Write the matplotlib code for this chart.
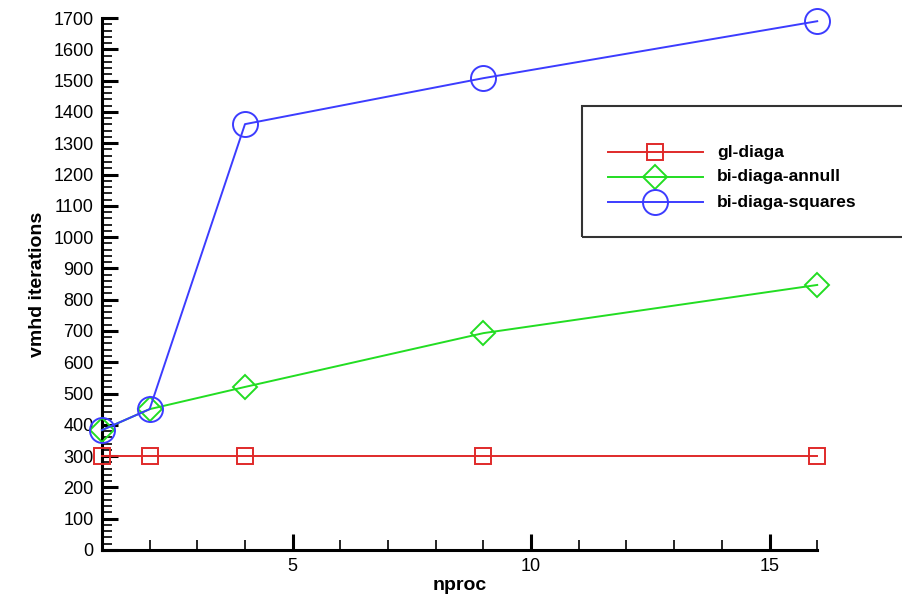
import matplotlib
matplotlib.use("Agg")
import matplotlib.pyplot as plt
from matplotlib.ticker import MultipleLocator
from matplotlib.patches import Rectangle
from matplotlib.lines import Line2D

# ─── data ──────────────────────────────────────────────────────────────────
nproc        = [1, 2, 4, 9, 16]
gl_diaga     = [300, 300, 300, 300, 300]
bi_annull    = [383, 450, 521, 693, 847]
bi_squares   = [383, 450, 1361, 1508, 1690]

series_names = ["gl-diaga", "bi-diaga-annull", "bi-diaga-squares"]

plt.rcParams['font.family'] = ['Liberation Sans', 'DejaVu Sans']

fig = plt.figure(figsize=(9.02, 6.03), dpi=100)
ax = fig.add_axes([0.113, 0.088, 0.793, 0.882])

red, green, blue = '#e02a2a', '#22dd22', '#3c3cff'
ax.plot(nproc, gl_diaga, color=red, lw=1.4, marker='s', ms=11.5,
        mfc='none', mec=red, mew=1.4, clip_on=False, zorder=3)
ax.plot(nproc, bi_annull, color=green, lw=1.4, marker='D', ms=12.5,
        mfc='none', mec=green, mew=1.4, clip_on=False, zorder=4)
ax.plot(nproc, bi_squares, color=blue, lw=1.4, marker='o', ms=18,
        mfc='none', mec=blue, mew=1.4, clip_on=False, zorder=5)

ax.set_xlim(1, 16)
ax.set_ylim(0, 1700)
ax.xaxis.set_major_locator(MultipleLocator(5))
ax.xaxis.set_minor_locator(MultipleLocator(1))
ax.yaxis.set_major_locator(MultipleLocator(100))
ax.yaxis.set_minor_locator(MultipleLocator(20))

for s in ['top', 'right']:
    ax.spines[s].set_visible(False)
for s in ['left', 'bottom']:
    ax.spines[s].set_linewidth(2.2)

ax.tick_params(which='major', direction='in', length=11.5, width=2.2,
               labelsize=13, pad=6)
ax.tick_params(which='minor', direction='in', length=7, width=1.2)

ax.set_xlabel("nproc", fontsize=14, fontweight='bold', labelpad=1)
ax.set_ylabel("vmhd iterations", fontsize=14, fontweight='bold', labelpad=5)

# legend box, drawn in figure pixels like the original
W, H = 902, 603
fig.patches.append(Rectangle((582 / W, 1 - 237 / H), 330 / W, 131 / H,
                             transform=fig.transFigure, fill=False,
                             ec='#333333', lw=1.5))
rows = [(152, red, 's', 11.5), (177, green, 'D', 12.5), (202, blue, 'o', 18)]
for (y, c, m, ms), name in zip(rows, series_names):
    fy = 1 - y / H
    fig.lines.append(Line2D([608 / W, 703 / W], [fy, fy], color=c, lw=1.4,
                            transform=fig.transFigure))
    fig.lines.append(Line2D([655 / W], [fy], color=c, marker=m, ms=ms,
                            mfc='none', mec=c, mew=1.4,
                            transform=fig.transFigure))
    fig.text(717 / W, fy, name, fontsize=12.5, fontweight='bold',
             va='center', ha='left')

fig.savefig("out.png", dpi=100)
